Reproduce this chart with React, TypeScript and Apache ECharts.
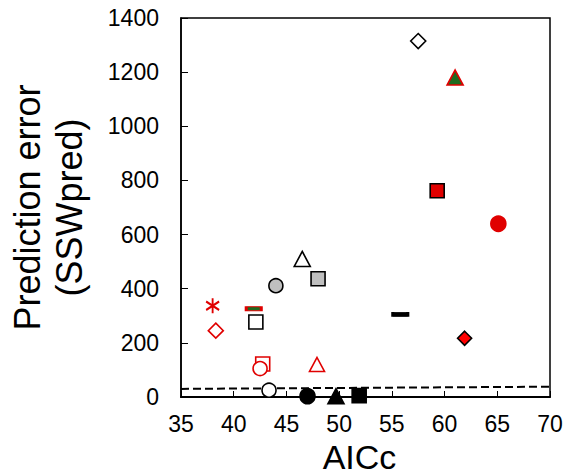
import React, { useEffect, useRef } from "react";
import * as echarts from "echarts";

// AICc and prediction error (SSWpred) of each candidate model
const aiccValues = [57.5, 61.0, 59.3, 65.1, 46.5, 48.0, 44.0, 38.0, 41.9, 42.1, 38.3, 42.75, 42.5, 47.9, 43.35, 47.0, 49.7, 51.9, 55.8, 61.9];
const predErrors = [1315, 1180, 762, 640, 510, 437, 411, 337, 326, 277, 245, 122, 105, 120, 25, 3, 3, 5, 305, 217];

// Dashed reference level across the AICc range
const refAicc = [35, 70];
const refError = [30, 38];

const xTicks = [35, 40, 45, 50, 55, 60, 65, 70];

const RED = "#e00000";
const GREEN = "#1f6a1f";
const GRAY = "#bfbfbf";
const ASTERISK = "path://M6,0 L6,14 M0,3 L12,11 M0,11 L12,3";

type Marker = { symbol: string; size: number | number[]; fill: string; stroke: string; lw?: number };

// One marker style per model, in the same order as the values above
const markerStyles: Marker[] = [
  { symbol: "diamond", size: 15, fill: "#fff", stroke: "#000" },
  { symbol: "triangle", size: [16, 15], fill: GREEN, stroke: RED },
  { symbol: "rect", size: 14, fill: RED, stroke: "#000" },
  { symbol: "circle", size: 15, fill: RED, stroke: RED },
  { symbol: "triangle", size: [16, 15], fill: "#fff", stroke: "#000" },
  { symbol: "rect", size: 14, fill: GRAY, stroke: "#000" },
  { symbol: "circle", size: 14, fill: GRAY, stroke: "#000" },
  { symbol: ASTERISK, size: [13, 15], fill: "none", stroke: RED, lw: 2 },
  { symbol: "rect", size: [15, 4], fill: GREEN, stroke: RED },
  { symbol: "rect", size: 14, fill: "#fff", stroke: "#000" },
  { symbol: "diamond", size: 15, fill: "#fff", stroke: RED },
  { symbol: "rect", size: 14, fill: "#fff", stroke: RED },
  { symbol: "circle", size: 14, fill: "#fff", stroke: RED },
  { symbol: "triangle", size: [15, 14], fill: "#fff", stroke: RED },
  { symbol: "circle", size: 14, fill: "#fff", stroke: "#000" },
  { symbol: "circle", size: 15, fill: "#000", stroke: "#000" },
  { symbol: "triangle", size: [16, 15], fill: "#000", stroke: "#000" },
  { symbol: "rect", size: 14, fill: "#000", stroke: "#000" },
  { symbol: "rect", size: [15, 4], fill: "#000", stroke: "#000" },
  { symbol: "diamond", size: 14, fill: "#ff0000", stroke: "#000" },
];

const FONT = "'Liberation Sans', Arial, sans-serif";

export default function App() {
  const ref = useRef<HTMLDivElement>(null);

  useEffect(() => {
    if (!ref.current) return;
    const chart = echarts.init(ref.current, undefined, { renderer: "svg" });

    const points = aiccValues.map((x, i) => {
      const m = markerStyles[i];
      return {
        value: [x, predErrors[i]],
        symbol: m.symbol,
        symbolSize: m.size,
        itemStyle: { color: m.fill, borderColor: m.stroke, borderWidth: m.lw ?? 1.6, opacity: 1 },
      };
    });

    chart.setOption({
      animation: false,
      backgroundColor: "#fff",
      textStyle: { fontFamily: FONT },
      grid: {
        left: 181,
        right: 16,
        top: 18,
        bottom: 78,
        outerBoundsMode: "none",
        containLabel: false,
        show: true,
        borderColor: "#000",
        borderWidth: 1.5,
        backgroundColor: "transparent",
      },
      xAxis: {
        type: "value",
        min: xTicks[0],
        max: xTicks[xTicks.length - 1],
        interval: 5,
        name: "AICc",
        nameLocation: "middle",
        nameGap: 35,
        nameTextStyle: {
          fontSize: 34,
          lineHeight: 34,
          color: "#000",
          fontFamily: FONT,
          padding: [0, 12, 0, 0],
        },
        axisLine: { show: true, lineStyle: { color: "#000", width: 2 } },
        axisTick: { show: true, inside: true, length: 6, lineStyle: { color: "#000", width: 1 } },
        axisLabel: { fontSize: 23, color: "#000", margin: 15, fontFamily: FONT },
        splitLine: { show: false },
      },
      yAxis: {
        type: "value",
        min: 0,
        max: 1400,
        interval: 200,
        name: "Prediction error\n(SSWpred)",
        nameLocation: "middle",
        nameGap: 91,
        nameRotate: 90,
        nameTextStyle: { fontSize: 36, color: "#000", lineHeight: 42, fontFamily: FONT },
        axisLine: { show: true, lineStyle: { color: "#000", width: 1.5 } },
        axisTick: { show: true, inside: true, length: 7, lineStyle: { color: "#000", width: 1 } },
        axisLabel: {
          fontSize: 23,
          color: "#000",
          margin: 22,
          fontFamily: FONT,
          formatter: (v: number) => String(v),
        },
        splitLine: { show: false },
      },
      series: [
        {
          type: "line",
          data: refAicc.map((x, i) => [x, refError[i]]),
          symbol: "none",
          lineStyle: { color: "#000", width: 2, type: [8, 4] },
          z: 1,
        },
        {
          type: "scatter",
          data: points,
          clip: false,
          z: 3,
        },
      ],
    });

    return () => chart.dispose();
  }, []);

  return (
    <div
      ref={ref}
      style={{ position: "fixed", left: 0, top: 0, width: 566, height: 475, background: "#fff" }}
    />
  );
}
